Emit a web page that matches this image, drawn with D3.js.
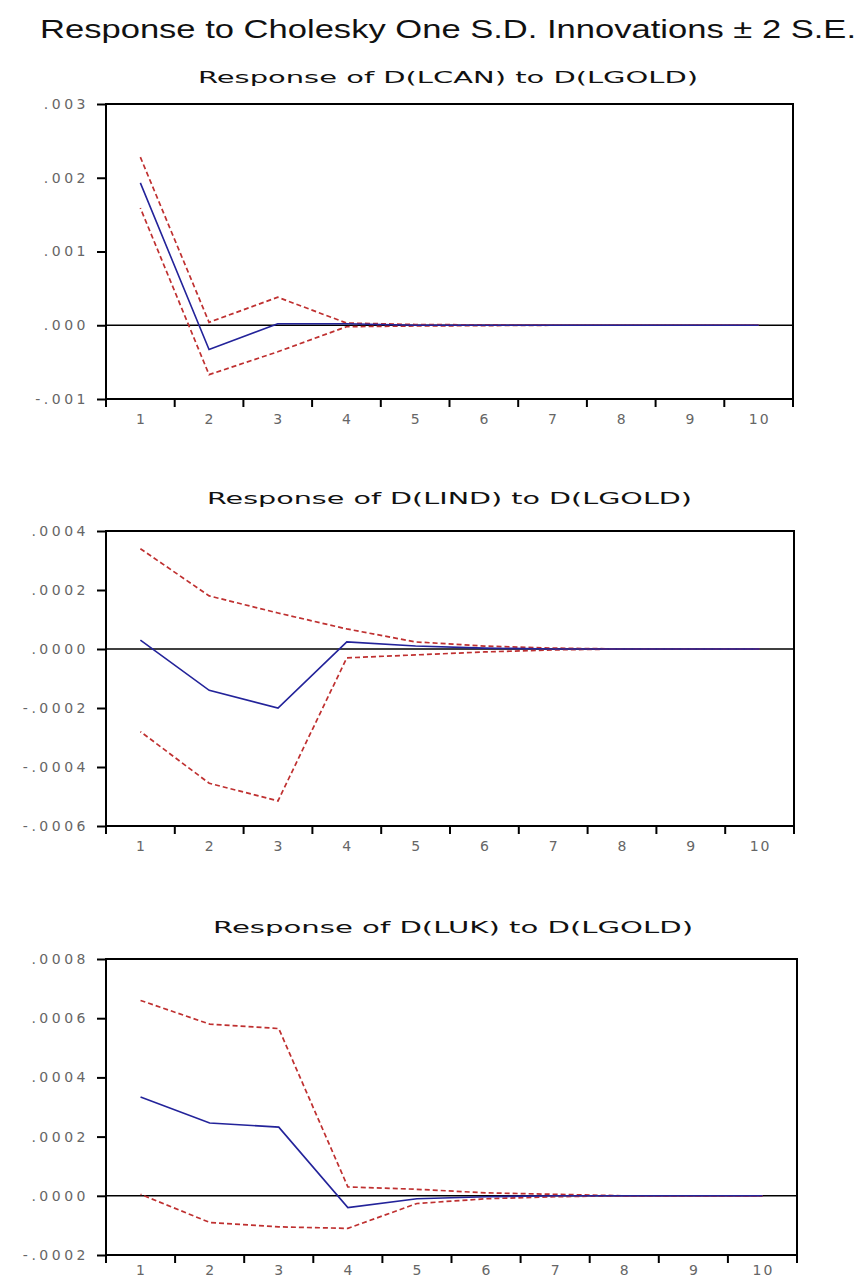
<!DOCTYPE html>
<html>
<head>
<meta charset="utf-8">
<script src="https://cdn.jsdelivr.net/npm/d3@7"></script>
<style>
	body { margin: 0; background: #fff; }
	svg { display: block; }
</style>
</head>
<body>
<script>
// periods of the impulse response
var steps = ["1", "2", "3", "4", "5", "6", "7", "8", "9", "10"];

// Response of D(LCAN) to D(LGOLD)
var lcanResp = [0.00193, -0.00033, 0.00002, 0.00002, 0.0, 0.0, 0.0, 0.0, 0.0, 0.0];
var lcanUpper = [0.00228, 0.00004, 0.00038, 0.00003, 0.00001, 0.000005, 0.0, 0.0, 0.0, 0.0];
var lcanLower = [0.00159, -0.00067, -0.00036, -0.00002, -0.00001, -0.000005, 0.0, 0.0, 0.0, 0.0];
var lcanTicks = [-0.001, 0.0, 0.001, 0.002, 0.003];

// Response of D(LIND) to D(LGOLD)
var lindResp = [0.00003, -0.00014, -0.0002, 0.000024, 0.00001, 0.000003, 0.0, 0.0, 0.0, 0.0];
var lindUpper = [0.00034, 0.00018, 0.000122, 0.000068, 0.000024, 0.00001, 0.000003, 0.0, 0.0, 0.0];
var lindLower = [-0.00028, -0.000455, -0.000515, -0.00003, -0.00002, -0.00001, -0.000003, 0.0, 0.0, 0.0];
var lindTicks = [-0.0006, -0.0004, -0.0002, 0.0, 0.0002, 0.0004];

// Response of D(LUK) to D(LGOLD)
var lukResp = [0.000334, 0.000246, 0.000232, -0.00004, -0.00001, -0.000003, 0.0, 0.0, 0.0, 0.0];
var lukUpper = [0.00066, 0.00058, 0.000565, 0.00003, 0.000022, 0.00001, 0.000005, 0.0, 0.0, 0.0];
var lukLower = [0.000005, -0.00009, -0.000105, -0.00011, -0.000026, -0.00001, -0.000003, 0.0, 0.0, 0.0];
var lukTicks = [-0.0002, 0.0, 0.0002, 0.0004, 0.0006, 0.0008];

var width = 868, height = 1281;
var blue = "#23239a", red = "#bf3030";

var svg = d3.select("body").append("svg")
	.attr("width", width)
	.attr("height", height);

svg.append("text")
	.attr("x", 40)
	.attr("y", 38)
	.attr("textLength", 816)
	.attr("lengthAdjust", "spacingAndGlyphs")
	.attr("font-family", "'Liberation Sans', Arial, sans-serif")
	.attr("font-size", 25)
	.attr("fill", "#111")
	.text("Response to Cholesky One S.D. Innovations \u00b1 2 S.E.");

drawPanel({ title: "Response of D(LCAN) to D(LGOLD)", titleY: 83, titleX: 198, titleLen: 500,
	top: 104, bottom: 399, left: 106, right: 793, ticks: lcanTicks, digits: 3, labelPad: 15,
	resp: lcanResp, upper: lcanUpper, lower: lcanLower });

drawPanel({ title: "Response of D(LIND) to D(LGOLD)", titleY: 504, titleX: 207, titleLen: 485,
	top: 531, bottom: 826, left: 106, right: 794, ticks: lindTicks, digits: 4, labelPad: 15,
	resp: lindResp, upper: lindUpper, lower: lindLower });

// bottom panel sits close to the page edge, labels pulled up a little
drawPanel({ title: "Response of D(LUK) to D(LGOLD)", titleY: 933, titleX: 213, titleLen: 480,
	top: 959, bottom: 1255, left: 106, right: 797, ticks: lukTicks, digits: 4, labelPad: 10,
	resp: lukResp, upper: lukUpper, lower: lukLower });

function drawPanel(p) {
	var g = svg.append("g");

	var x = d3.scaleBand()
		.domain(steps)
		.range([p.left, p.right]);
	var y = d3.scaleLinear()
		.domain([p.ticks[0], p.ticks[p.ticks.length - 1]])
		.range([p.bottom, p.top]);

	// eviews style labels: ".002", "-.0004"
	var fmt = function (v) {
		return d3.format("." + p.digits + "f")(v).replace("0.", ".").replace("\u2212", "-");
	};
	var cx = function (d, i) { return x(steps[i]) + x.bandwidth() / 2; };

	g.append("text")
		.attr("x", p.titleX)
		.attr("y", p.titleY)
		.attr("textLength", p.titleLen)
		.attr("lengthAdjust", "spacingAndGlyphs")
		.attr("font-family", "'DejaVu Sans', Verdana, sans-serif")
		.attr("font-size", 15)
		.attr("fill", "#111")
		.text(p.title);

	// y axis
	var yAxis = g.append("g")
		.attr("transform", "translate(" + p.left + ",0)")
		.call(d3.axisLeft(y).tickValues(p.ticks).tickFormat(fmt).tickSize(9).tickPadding(8));
	yAxis.select(".domain").remove();
	yAxis.selectAll("line").attr("stroke", "#000").attr("stroke-width", 2);
	yAxis.selectAll("text")
		.attr("font-family", "'DejaVu Sans', Verdana, sans-serif")
		.attr("font-size", 14)
		.attr("letter-spacing", 3.5)
		.attr("fill", "#666");

	// x labels in band centres, ticks on band edges
	var xAxis = g.append("g")
		.attr("transform", "translate(0," + p.bottom + ")")
		.call(d3.axisBottom(x).tickSize(0).tickPadding(p.labelPad));
	xAxis.select(".domain").remove();
	xAxis.selectAll("text")
		.attr("dx", 1)
		.attr("font-family", "'DejaVu Sans', Verdana, sans-serif")
		.attr("font-size", 14)
		.attr("letter-spacing", 2)
		.attr("fill", "#666");

	g.selectAll(".xtick")
		.data(steps.concat(["end"]))
		.enter()
		.append("line")
		.attr("class", "xtick")
		.attr("x1", function (d) { return d === "end" ? p.right : x(d); })
		.attr("x2", function (d) { return d === "end" ? p.right : x(d); })
		.attr("y1", p.bottom)
		.attr("y2", p.bottom + 8)
		.attr("stroke", "#000")
		.attr("stroke-width", 2);

	// zero line
	g.append("line")
		.attr("x1", p.left)
		.attr("x2", p.right)
		.attr("y1", y(0))
		.attr("y2", y(0))
		.attr("stroke", "#000")
		.attr("stroke-width", 1.5);

	var line = d3.line()
		.x(cx)
		.y(function (d) { return y(d); });

	g.append("path")
		.datum(p.upper)
		.attr("d", line)
		.attr("fill", "none")
		.attr("stroke", red)
		.attr("stroke-width", 1.7)
		.attr("stroke-dasharray", "5,3");
	g.append("path")
		.datum(p.lower)
		.attr("d", line)
		.attr("fill", "none")
		.attr("stroke", red)
		.attr("stroke-width", 1.7)
		.attr("stroke-dasharray", "5,3")
		.attr("stroke-dashoffset", 4);
	g.append("path")
		.datum(p.resp)
		.attr("d", line)
		.attr("fill", "none")
		.attr("stroke", blue)
		.attr("stroke-width", 1.6);

	// frame
	g.append("rect")
		.attr("x", p.left)
		.attr("y", p.top)
		.attr("width", p.right - p.left)
		.attr("height", p.bottom - p.top)
		.attr("fill", "none")
		.attr("stroke", "#000")
		.attr("stroke-width", 2);
}
</script>
</body>
</html>
